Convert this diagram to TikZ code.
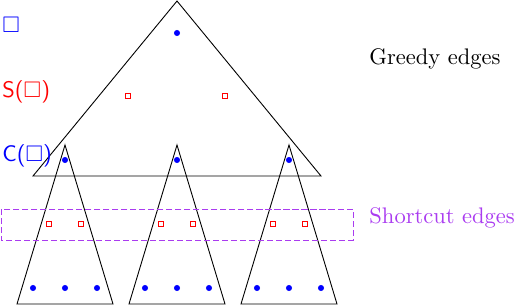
\documentclass[tikz,border=0pt]{standalone}
\usepackage{amsmath,amssymb}
\usetikzlibrary{positioning}
\definecolor{shortcut}{RGB}{170,60,240}

\tikzset{
  dot/.style={circle,fill=blue,inner sep=0pt,minimum size=2.7pt},
  sq/.style={draw=red,inner sep=0pt,minimum size=2.5pt,line width=0.35pt},
  lbl/.style={anchor=base west,inner sep=0pt}
}

\begin{document}
\begin{tikzpicture}[x=0.444pt,y=-0.444pt]
\useasboundingbox (0,0) rectangle (517,306);

% big triangle
\coordinate (top) at (177,1);
\coordinate (bl) at (33,176);
\coordinate (br) at (321,176);
\draw (top) -- (bl) -- (br) -- cycle;
\node[dot] (root) at (177,33) {};
\node[sq] (s1) at (128,96) {};
\node[sq] (s2) at (225,96) {};

% small triangles
\foreach \i/\x in {1/65,2/177,3/289}{
  \coordinate (t\i) at (\x,145);
  \coordinate (l\i) at (\x-48,304);
  \coordinate (r\i) at (\x+48,304);
  \draw (t\i) -- (l\i) -- (r\i) -- cycle;
  \node[dot] (c\i) at (\x,160) {};
  \node[dot] (a\i) at (\x-32,288) {};
  \node[dot] (b\i) at (\x,288) {};
  \node[dot] (d\i) at (\x+32,288) {};
  \node[sq] (p\i) at (\x-16,224) {};
  \node[sq] (q\i) at (\x+16,224) {};
}

% shortcut band
\draw[shortcut,dash pattern=on 2.7pt off 1.3pt] (1,209) rectangle (353,240);

% labels
\node[lbl] (greedy) at (369,64) {Greedy edges};
\node[lbl,text=shortcut] (short) at (369,223) {Shortcut edges};
\node[lbl,text=blue] (box) at (2,32) {$\square$};
\node[lbl,text=red,font=\sffamily] (sbox) at (2,97) {S($\square$)};
\node[lbl,text=blue,font=\sffamily] (cbox) at (2,161) {C($\square$)};
\end{tikzpicture}
\end{document}
